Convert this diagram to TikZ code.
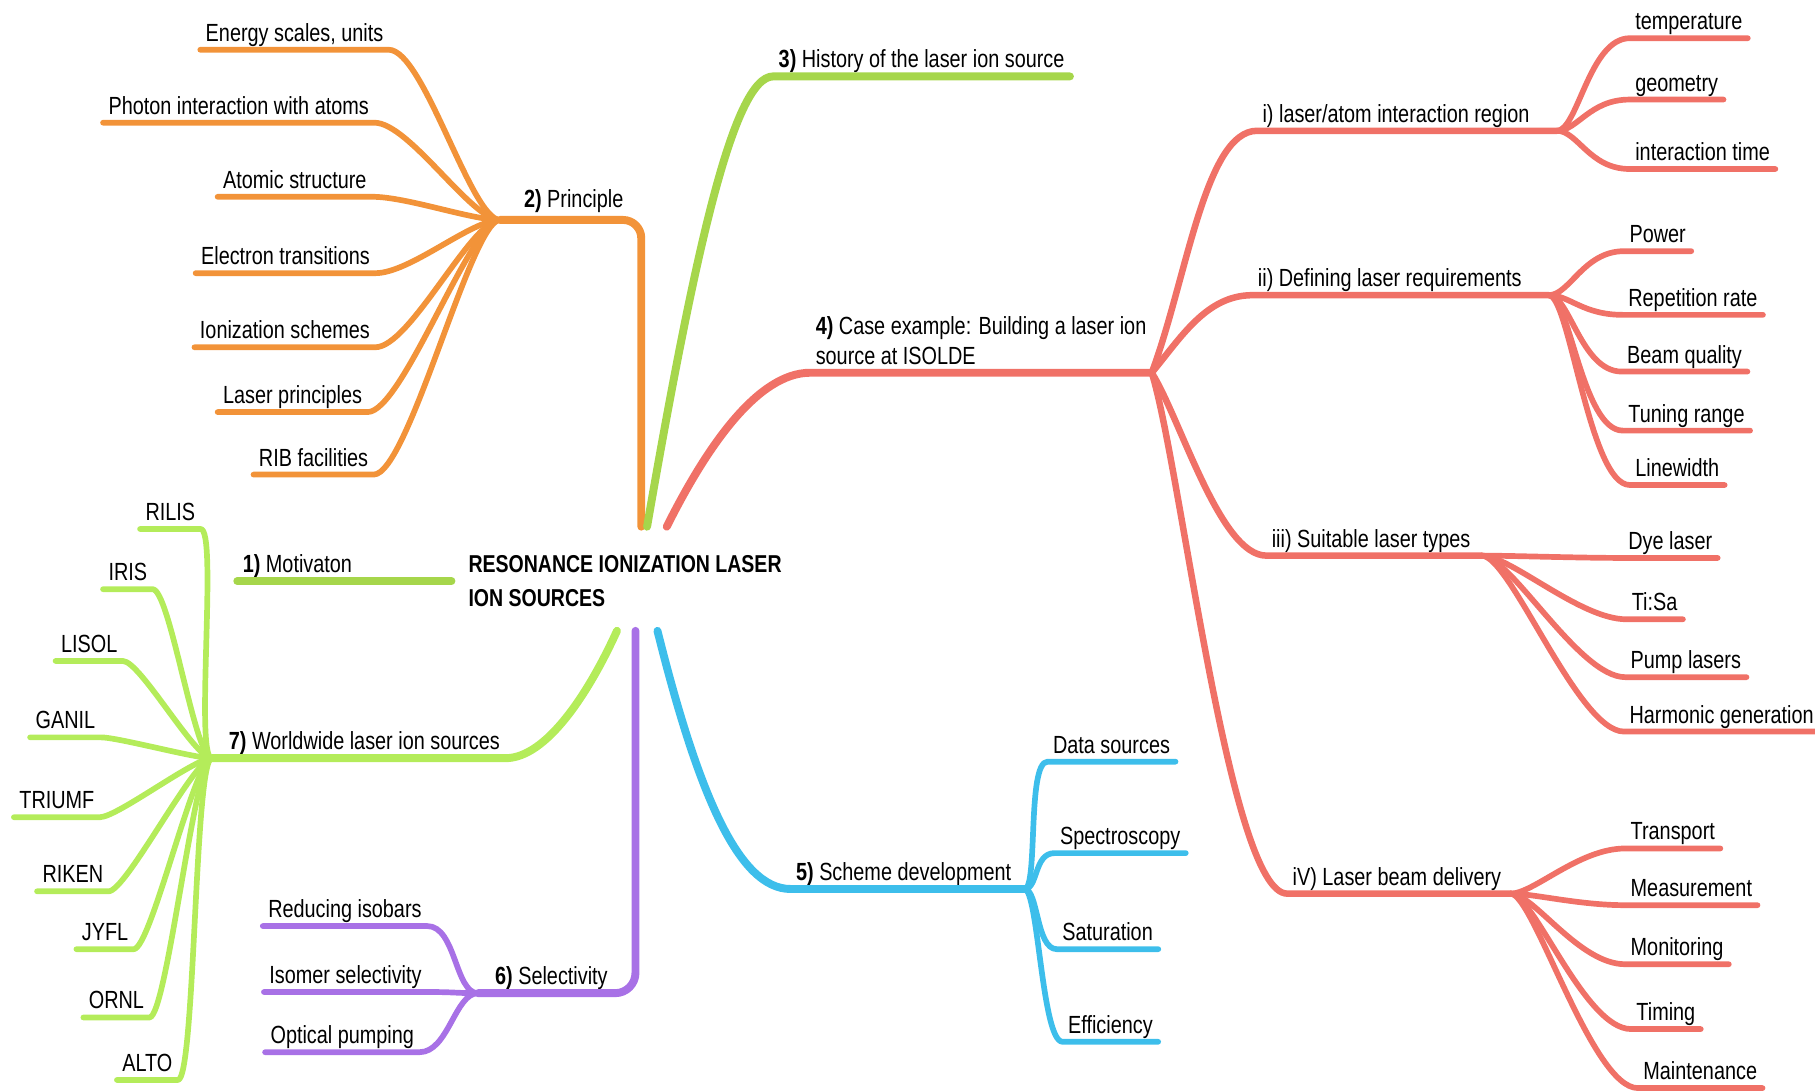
\documentclass[tikz,border=0pt]{standalone}
\usepackage{fontspec}
\setmainfont{Liberation Sans}[FakeStretch=0.8]
\usetikzlibrary{positioning}

\definecolor{orangeM}{HTML}{F29339}
\definecolor{limeM}{HTML}{A6D64B}
\definecolor{limeL}{HTML}{B4EC5A}
\definecolor{redM}{HTML}{F07167}
\definecolor{blueM}{HTML}{3DBEEB}
\definecolor{purpleM}{HTML}{A871E6}

\begin{document}
\begin{tikzpicture}[x=0.02cm, y=-0.02cm,
  every node/.style={font=\fontsize{12.2}{14.5}\selectfont, inner xsep=2.5pt, inner ysep=1.5pt, text depth=0.25em},
  leaf/.style={anchor=south west},
  trunk/.style={line width=3.9pt, line cap=round, line join=round},
  branch/.style={line width=3.2pt, line cap=round, line join=round},
  twig/.style={line width=2.8pt, line cap=round, line join=round}]

  \useasboundingbox (0,0) rectangle (1568,943);

  % centre
  \node[font=\bfseries\fontsize{12}{16.5}\selectfont, align=left, anchor=west, text depth=0pt] (root) at (400,502)
    {RESONANCE IONIZATION LASER\\ION SOURCES};
  \coordinate (r1) at (390,502);
  \coordinate (r2) at (554,455);
  \coordinate (r3) at (559,455);
  \coordinate (r4) at (576,455);
  \coordinate (r5) at (568,545);
  \coordinate (r6) at (549,545);
  \coordinate (r7) at (533,545);

  % hubs
  \coordinate (h2) at (432,190);
  \coordinate (h4) at (995,322);
  \coordinate (hi) at (1345,113);
  \coordinate (hii) at (1338,255);
  \coordinate (hiii) at (1280,480);
  \coordinate (hiv) at (1305,772);
  \coordinate (h5) at (885,768);
  \coordinate (h6) at (413,858);
  \coordinate (h7) at (183,655);

  % 1) and 2)
  \node[leaf] (n1) at (205,502) {\textbf{1)} Motivaton};
  \node[leaf] (n2) at (448,187) {\textbf{2)} Principle};
  \node[leaf] (n2a) at (173,43) {Energy scales, units};
  \node[leaf] (n2b) at (89,106) {Photon interaction with atoms};
  \node[leaf] (n2c) at (188,170) {Atomic structure};
  \node[leaf] (n2d) at (169,236) {Electron transitions};
  \node[leaf] (n2e) at (168,300) {Ionization schemes};
  \node[leaf] (n2f) at (188,356) {Laser principles};
  \node[leaf] (n2g) at (219,410) {RIB facilities};

  % 3) and 4)
  \node[leaf] (n3) at (668,66) {\textbf{3)} History of the laser ion source};
  \node[leaf, align=left] (n4) at (700,322) {\textbf{4)} Case example: Building a laser ion\\source at ISOLDE};
  \node[leaf] (ni) at (1086,113) {i) laser/atom interaction region};
  \node[leaf] (nii) at (1082,255) {ii) Defining laser requirements};
  \node[leaf] (niii) at (1094,480) {iii) Suitable laser types};
  \node[leaf] (niv) at (1112,772) {iV) Laser beam delivery};

  \node[leaf] (lia) at (1408,33) {temperature};
  \node[leaf] (lib) at (1408,86) {geometry};
  \node[leaf] (lic) at (1408,146) {interaction time};

  \node[leaf] (liia) at (1403,217) {Power};
  \node[leaf] (liib) at (1402,272) {Repetition rate};
  \node[leaf] (liic) at (1401,321) {Beam quality};
  \node[leaf] (liid) at (1402,372) {Tuning range};
  \node[leaf] (liie) at (1408,419) {Linewidth};

  \node[leaf] (liiia) at (1402,482) {Dye laser};
  \node[leaf] (liiib) at (1405,535) {Ti:Sa};
  \node[leaf] (liiic) at (1404,585) {Pump lasers};
  \node[leaf] (liiid) at (1403,632) {Harmonic generation};

  \node[leaf] (liva) at (1404,733) {Transport};
  \node[leaf] (livb) at (1404,782) {Measurement};
  \node[leaf] (livc) at (1404,833) {Monitoring};
  \node[leaf] (livd) at (1409,889) {Timing};
  \node[leaf] (live) at (1415,940) {Maintenance};

  % 5)
  \node[leaf] (n5) at (683,768) {\textbf{5)} Scheme development};
  \node[leaf] (l5a) at (905,658) {Data sources};
  \node[leaf] (l5b) at (911,737) {Spectroscopy};
  \node[leaf] (l5c) at (913,820) {Saturation};
  \node[leaf] (l5d) at (918,900) {Efficiency};

  % 6)
  \node[leaf] (n6) at (423,858) {\textbf{6)} Selectivity};
  \node[leaf] (l6a) at (227,800) {Reducing isobars};
  \node[leaf] (l6b) at (228,857) {Isomer selectivity};
  \node[leaf] (l6c) at (229,909) {Optical pumping};

  % 7)
  \node[leaf] (n7) at (193,655) {\textbf{7)} Worldwide laser ion sources};
  \node[leaf] (l7a) at (121,457) {RILIS};
  \node[leaf] (l7b) at (89,509) {IRIS};
  \node[leaf] (l7c) at (48,571) {LISOL};
  \node[leaf] (l7d) at (26,637) {GANIL};
  \node[leaf] (l7e) at (12,706) {TRIUMF};
  \node[leaf] (l7f) at (32,770) {RIKEN};
  \node[leaf] (l7g) at (66,820) {JYFL};
  \node[leaf] (l7h) at (72,879) {ORNL};
  \node[leaf] (l7i) at (101,933) {ALTO};

  % main branches
  \draw[trunk, limeM] (n1.south west) -- (r1);
  \draw[trunk, orangeM, rounded corners=9pt] (h2) -- (h2 -| r2) -- (r2);
  \draw[trunk, limeM] (r3) .. controls +(40,-230) and +(-35,0) .. (n3.south west) -- (n3.south east);
  \draw[trunk, redM] (r4) .. controls +(35,-70) and +(-45,0) .. (n4.south west) -- (h4);
  \draw[trunk, blueM] (r5) .. controls +(35,140) and +(-45,0) .. (n5.south west) -- (h5);
  \draw[trunk, purpleM, rounded corners=10pt] (h6) -- (h6 -| r6) -- (r6);
  \draw[trunk, limeL] (r7) .. controls +(-25,55) and +(35,0) .. (n7.south east) -- (h7);

  % 4) sub-branches
  \draw[branch, redM] (h4) .. controls +(30,-80) and +(-45,0) .. (ni.south west) -- (hi);
  \draw[branch, redM] (h4) .. controls +(25,-30) and +(-40,0) .. (nii.south west) -- (hii);
  \draw[branch, redM] (h4) .. controls +(25,40) and +(-40,0) .. (niii.south west) -- (hiii);
  \draw[branch, redM] (h4) .. controls +(25,80) and +(-50,0) .. (niv.south west) -- (hiv);

  % leaves
  \foreach \n in {a,...,g}
    \draw[twig, orangeM] (n2\n.south west) -- (n2\n.south east) .. controls +(30,0) and +(-25,0) .. (h2);
  \foreach \n in {a,b,c}
    \draw[twig, redM] (hi) .. controls +(18,0) and +(-35,0) .. (li\n.south west) -- (li\n.south east);
  \foreach \n in {a,...,e}
    \draw[twig, redM] (hii) .. controls +(18,0) and +(-35,0) .. (lii\n.south west) -- (lii\n.south east);
  \foreach \n in {a,...,d}
    \draw[twig, redM] (hiii) .. controls +(25,0) and +(-40,0) .. (liii\n.south west) -- (liii\n.south east);
  \foreach \n in {a,...,e}
    \draw[twig, redM] (hiv) .. controls +(20,0) and +(-40,0) .. (liv\n.south west) -- (liv\n.south east);
  \foreach \n in {a,...,d}
    \draw[twig, blueM] (h5) .. controls +(12,0) and +(-18,0) .. (l5\n.south west) -- (l5\n.south east);
  \foreach \n in {a,b,c}
    \draw[twig, purpleM] (l6\n.south west) -- (l6\n.south east) .. controls +(25,0) and +(-20,0) .. (h6);
  \foreach \n in {a,...,i}
    \draw[twig, limeL] (l7\n.south west) -- (l7\n.south east) .. controls +(15,0) and +(-15,0) .. (h7);
\end{tikzpicture}
\end{document}
